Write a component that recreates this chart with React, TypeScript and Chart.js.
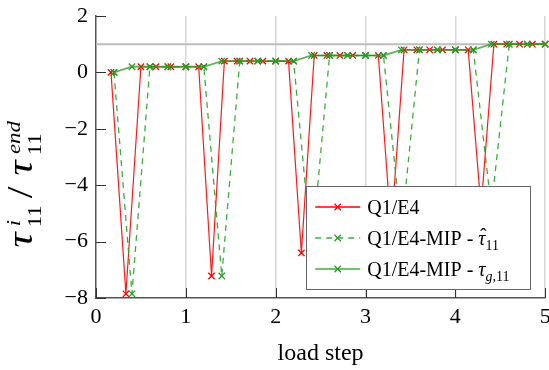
import React, { useEffect, useRef } from 'react';
import { Chart, registerables } from 'chart.js';

Chart.register(...registerables);

// ---- data ----
const redLoadSteps = [
  0.167, 0.333, 0.5, 0.667, 0.833, 1.0,
  1.143, 1.286, 1.429, 1.571, 1.714, 1.857, 2.0,
  2.143, 2.286, 2.429, 2.571, 2.714, 2.857, 3.0,
  3.143, 3.286, 3.429, 3.571, 3.714, 3.857, 4.0,
  4.143, 4.286, 4.429, 4.571, 4.714, 4.857, 5.0,
];
const redValues = [
  0, -7.85, 0.2, 0.2, 0.2, 0.2,
  0.2, -7.22, 0.4, 0.4, 0.4, 0.4, 0.4,
  0.4, -6.4, 0.6, 0.6, 0.6, 0.6, 0.6,
  0.6, -5.6, 0.8, 0.8, 0.8, 0.8, 0.8,
  0.8, -4.8, 1.0, 1.0, 1.0, 1.0, 1.0,
];
const mipLoadSteps = [
  0.2, 0.4, 0.6, 0.8, 1.0, 1.2, 1.4, 1.6, 1.8, 2.0, 2.2, 2.4, 2.6,
  2.8, 3.0, 3.2, 3.4, 3.6, 3.8, 4.0, 4.2, 4.4, 4.6, 4.8, 5.0,
];
const mipHatValues = [
  0, -7.85, 0.2, 0.2, 0.2, 0.2, -7.22, 0.4, 0.4, 0.4, 0.4, -6.4, 0.6,
  0.6, 0.6, 0.6, -5.6, 0.8, 0.8, 0.8, 0.8, -4.8, 1.0, 1.0, 1.0,
];
const mipGaussValues = [
  0, 0.2, 0.2, 0.2, 0.2, 0.2, 0.4, 0.4, 0.4, 0.4, 0.4, 0.6, 0.6,
  0.6, 0.6, 0.6, 0.8, 0.8, 0.8, 0.8, 0.8, 1.0, 1.0, 1.0, 1.0,
];
const xTickValues = [0, 1, 2, 3, 4, 5];
const yTickValues = [-8, -6, -4, -2, 0, 2];
const referenceLevel = 1;
const xAxisTitle = 'load step';

const SERIF = '"Liberation Serif", "Times New Roman", serif';
const RED = '#ff0000';
const GREEN_LINE = 'rgba(40,165,40,0.9)';
const GREEN_MARK = '#2b9a2b';

type Seg = { t: string; font: string; dy?: number; hat?: boolean };

function drawRich(ctx: CanvasRenderingContext2D, x: number, y: number, segs: Seg[]) {
  let cx = x;
  for (const s of segs) {
    ctx.font = s.font;
    const w = ctx.measureText(s.t).width;
    ctx.fillText(s.t, cx, y + (s.dy || 0));
    if (s.hat) {
      ctx.save();
      ctx.font = `20px ${SERIF}`;
      const hw = ctx.measureText('\u02C6').width;
      ctx.fillText('\u02C6', cx + w / 2 - hw / 2 + 1.5, y - 2);
      ctx.restore();
    }
    cx += w;
  }
  return cx;
}

function drawYTitle(ctx: CanvasRenderingContext2D, baseX: number, centerY: number) {
  const S = 35;
  const s = 19;
  const big = `italic ${S}px ${SERIF}`;
  const bigUp = `${S}px ${SERIF}`;
  const smIt = `italic ${s}px ${SERIF}`;
  const sm = `${s}px ${SERIF}`;
  const mw = (t: string, f: string) => { ctx.font = f; return ctx.measureText(t).width; };
  const wTm = mw('\u03C4', big);
  const wT = Math.max(wTm, 0.55 * S);
  const wi = mw('i', smIt);
  const w11 = mw('11', sm);
  const wEnd = mw('end', smIt);
  const wSlm = mw('/', bigUp);
  const wSl = Math.max(wSlm, 0.5 * S);
  const g1 = Math.max(wi, w11);
  const g2 = Math.max(wEnd, w11);
  const total = wT + 1 + g1 + 2 + wSl + 2 + wT + 1 + g2;
  const k = Math.min(1.2, 138 / total);
  ctx.save();
  ctx.translate(baseX, centerY);
  ctx.rotate(-Math.PI / 2);
  ctx.scale(k, 1);
  ctx.fillStyle = '#000';
  ctx.textBaseline = 'alphabetic';
  const supY = -12;
  const subY = 9;
  let x = -total / 2;
  ctx.font = big; ctx.fillText('\u03C4', x + (wT - wTm) / 2, 0); x += wT + 1;
  ctx.font = smIt; ctx.fillText('i', x + 1, supY);
  ctx.font = sm; ctx.fillText('11', x, subY);
  x += g1 + 2;
  ctx.font = bigUp; ctx.fillText('/', x + (wSl - wSlm) / 2, 0); x += wSl + 2;
  ctx.font = big; ctx.fillText('\u03C4', x + (wT - wTm) / 2, 0); x += wT + 1;
  ctx.font = smIt; ctx.fillText('end', x + 1, supY);
  ctx.font = sm; ctx.fillText('11', x, subY);
  ctx.restore();
}

const decorPlugin = {
  id: 'decor',
  beforeDatasetsDraw(chart: any) {
    const { ctx, chartArea: ca, scales } = chart;
    const py = scales.y.getPixelForValue(referenceLevel);
    ctx.save();
    ctx.strokeStyle = '#bdbdbd';
    ctx.lineWidth = 2;
    ctx.beginPath();
    ctx.moveTo(ca.left, py);
    ctx.lineTo(ca.right, py);
    ctx.stroke();
    ctx.restore();
  },
  afterDraw(chart: any) {
    const { ctx, chartArea: ca, scales } = chart;
    ctx.save();
    // inward tick marks
    ctx.strokeStyle = '#333';
    ctx.lineWidth = 1;
    ctx.beginPath();
    for (const v of xTickValues) {
      const px = Math.round(scales.x.getPixelForValue(v)) + 0.5;
      ctx.moveTo(px, ca.bottom);
      ctx.lineTo(px, ca.bottom - 10);
    }
    for (const v of yTickValues) {
      const py = Math.round(scales.y.getPixelForValue(v)) + 0.5;
      ctx.moveTo(ca.left, py);
      ctx.lineTo(ca.left + 10, py);
    }
    ctx.stroke();
    ctx.restore();

    drawYTitle(ctx, 32, 187);

    // legend box
    ctx.save();
    const bw = 224, bh = 103;
    const bx = ca.right - 15 - bw;
    const by = ca.bottom - 9 - bh;
    ctx.fillStyle = '#fff';
    ctx.fillRect(bx, by, bw, bh);
    ctx.strokeStyle = '#666';
    ctx.lineWidth = 1;
    ctx.strokeRect(Math.round(bx) + 0.5, Math.round(by) + 0.5, bw, bh);
    const reg = `20px ${SERIF}`;
    const it = `italic 20px ${SERIF}`;
    const sub = `14px ${SERIF}`;
    const subIt = `italic 14px ${SERIF}`;
    const rows: { color: string; mark: string; dash: number[]; segs: Seg[] }[] = [
      { color: RED, mark: RED, dash: [], segs: [{ t: 'Q1/E4', font: reg }] },
      {
        color: GREEN_LINE, mark: GREEN_MARK, dash: [6, 5],
        segs: [{ t: 'Q1/E4-MIP - ', font: reg }, { t: '\u03C4', font: it, hat: true }, { t: '11', font: sub, dy: 5 }],
      },
      {
        color: GREEN_LINE, mark: GREEN_MARK, dash: [],
        segs: [{ t: 'Q1/E4-MIP - ', font: reg }, { t: '\u03C4', font: it }, { t: 'g', font: subIt, dy: 5 }, { t: ',11', font: sub, dy: 5 }],
      },
    ];
    rows.forEach((r, i) => {
      const cy = by + 21 + i * 31;
      ctx.strokeStyle = r.color;
      ctx.lineWidth = 1.3;
      ctx.setLineDash(r.dash);
      ctx.beginPath();
      ctx.moveTo(bx + 9, cy);
      ctx.lineTo(bx + 54, cy);
      ctx.stroke();
      ctx.setLineDash([]);
      const mx = bx + 31.5;
      ctx.strokeStyle = r.mark;
      ctx.beginPath();
      ctx.moveTo(mx - 3.2, cy - 3.2); ctx.lineTo(mx + 3.2, cy + 3.2);
      ctx.moveTo(mx - 3.2, cy + 3.2); ctx.lineTo(mx + 3.2, cy - 3.2);
      ctx.stroke();
      ctx.fillStyle = '#000';
      ctx.textBaseline = 'alphabetic';
      drawRich(ctx, bx + 61, cy + 6.5, r.segs);
    });
    ctx.restore();
  },
};

export default function App() {
  const ref = useRef<HTMLCanvasElement | null>(null);
  useEffect(() => {
    if (!ref.current) return;
    const pts = (xs: number[], ys: number[]) => xs.map((x, i) => ({ x, y: ys[i] }));
    const chart = new Chart(ref.current, {
      type: 'line',
      data: {
        datasets: [
          {
            label: 'Q1/E4',
            data: pts(redLoadSteps, redValues),
            borderColor: 'rgba(255,0,0,0.9)',
            borderWidth: 1.2,
            pointStyle: 'crossRot',
            pointRadius: 4.5,
            pointBorderColor: RED,
            pointBorderWidth: 1.3,
            pointBackgroundColor: 'transparent',
            fill: false,
            tension: 0,
            order: 3,
            clip: false,
          },
          {
            label: 'Q1/E4-MIP - tau hat 11',
            data: pts(mipLoadSteps, mipHatValues),
            borderColor: GREEN_LINE,
            borderDash: [6, 5],
            borderWidth: 1.3,
            pointStyle: 'crossRot',
            pointRadius: 4.5,
            pointBorderColor: GREEN_MARK,
            pointBorderWidth: 1.3,
            pointBackgroundColor: 'transparent',
            fill: false,
            tension: 0,
            order: 2,
            clip: false,
          },
          {
            label: 'Q1/E4-MIP - tau g,11',
            data: pts(mipLoadSteps, mipGaussValues),
            borderColor: 'rgba(40,150,30,0.72)',
            borderWidth: 1.8,
            pointStyle: 'crossRot',
            pointRadius: 4.5,
            pointBorderColor: GREEN_MARK,
            pointBorderWidth: 1.3,
            pointBackgroundColor: 'transparent',
            fill: false,
            tension: 0,
            order: 1,
            clip: false,
          },
        ],
      },
      options: {
        animation: false,
        responsive: false,
        maintainAspectRatio: false,
        events: [],
        layout: { padding: { top: 16, right: 0, left: 0, bottom: 0 } },
        plugins: { legend: { display: false }, tooltip: { enabled: false } },
        scales: {
          x: {
            type: 'linear',
            min: 0,
            max: 5,
            afterBuildTicks: (s: any) => { s.ticks = xTickValues.map((v) => ({ value: v })); },
            afterFit: (s: any) => { s.height = 72; s.paddingLeft = 0; s.paddingRight = 0; },
            grid: {
              color: (c: any) => (c.tick && c.tick.value === 0 ? 'rgba(0,0,0,0)' : '#d6d6d6'),
              lineWidth: 1.5,
              drawTicks: false,
            },
            border: { color: '#555', width: 1.5 },
            ticks: { font: { size: 22, family: SERIF }, color: '#000', padding: 6, maxRotation: 0 },
            title: {
              display: true,
              text: xAxisTitle,
              color: '#000',
              font: { size: 24, family: SERIF },
              padding: { top: 0, bottom: 2 },
            },
          },
          y: {
            type: 'linear',
            min: -8,
            max: 2,
            afterBuildTicks: (s: any) => { s.ticks = yTickValues.map((v) => ({ value: v })); },
            afterFit: (s: any) => { s.width = 96; s.paddingTop = 0; s.paddingBottom = 0; },
            grid: { display: true, color: 'rgba(0,0,0,0)', drawTicks: false },
            border: { color: '#555', width: 1.5 },
            ticks: {
              font: { size: 22, family: SERIF },
              color: '#000',
              padding: 8,
              callback: (v: any) => (Number(v) < 0 ? '\u2212' + Math.abs(Number(v)) : String(v)),
            },
          },
        },
      } as any,
      plugins: [decorPlugin],
    });
    return () => chart.destroy();
  }, []);
  return (
    <div style={{ position: 'absolute', left: 0, top: 0, width: 549, height: 370, overflow: 'hidden', background: '#fff' }}>
      <canvas ref={ref} width={551} height={370} style={{ display: 'block' }} />
    </div>
  );
}
